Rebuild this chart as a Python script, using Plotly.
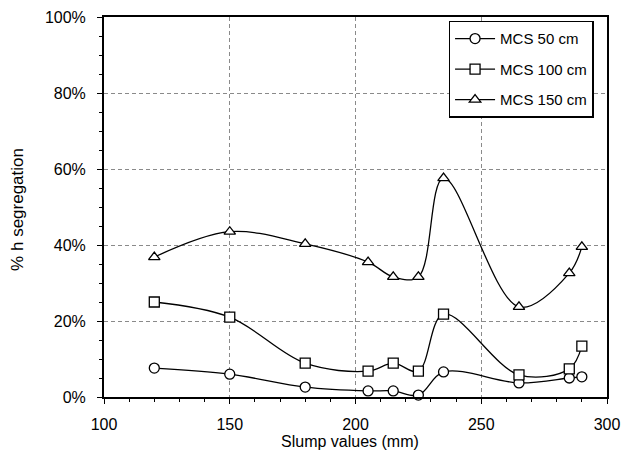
import plotly.graph_objects as go

# Slump values (mm) at which each column height was tested
slump = [120, 150, 180, 205, 215, 225, 235, 265, 285, 290]

# Percentage height segregation for each column height
mcs_50 = [7.6, 6.0, 2.6, 1.6, 1.6, 0.5, 6.6, 3.7, 5.0, 5.3]
mcs_100 = [25.0, 21.0, 8.9, 6.8, 8.9, 6.8, 21.8, 5.8, 7.4, 13.4]
mcs_150 = [36.8, 43.5, 40.3, 35.5, 31.6, 31.6, 57.6, 23.7, 32.6, 39.5]

series = [
    ("MCS 50 cm", mcs_50, "circle"),
    ("MCS 100 cm", mcs_100, "square"),
    ("MCS 150 cm", mcs_150, "triangle-up"),
]

x_title = "Slump values (mm)"
y_title = "% h segregation"

font = "Liberation Sans, Arial, sans-serif"

fig = go.Figure()
for i, (name, vals, sym) in enumerate(series):
    fig.add_trace(go.Scatter(
        x=slump, y=vals, name=name, mode="lines+markers",
        legendgroup=f"g{i}",
        line=dict(color="black", width=1.3, shape="spline", smoothing=1.0),
        marker=dict(symbol=sym, size=10, color="white",
                    line=dict(color="black", width=1.3)),
        cliponaxis=False,
    ))

axis_common = dict(
    showline=True, linecolor="black", linewidth=2, mirror=True,
    showgrid=True, gridcolor="#8a8a8a", griddash="4px,3px", gridwidth=1,
    ticks="outside", ticklen=5, tickcolor="black", tickwidth=1,
    tickfont=dict(family=font, size=16, color="black"),
    zeroline=False, automargin=False,
)

fig.update_xaxes(
    range=[100, 300], dtick=50, tick0=100,
    minor=dict(dtick=10, ticks="outside", ticklen=3, tickcolor="black", showgrid=False),
    ticklabelstandoff=7,
    **axis_common,
)
fig.update_yaxes(
    range=[0, 100], dtick=20, ticksuffix="%",
    minor=dict(dtick=5, ticks="outside", ticklen=3, tickcolor="black", showgrid=False),
    ticklabelstandoff=8,
    **axis_common,
)

# Axis titles placed in paper coordinates below / left of the plot area
fig.add_annotation(
    text=x_title, xref="paper", yref="paper", x=0.49, y=-0.118,
    xanchor="center", yanchor="middle", showarrow=False,
    font=dict(family=font, size=16, color="black"),
)
fig.add_annotation(
    text=y_title, xref="paper", yref="paper", x=-0.171, y=0.495,
    xanchor="center", yanchor="middle", textangle=-90, showarrow=False,
    font=dict(family=font, size=17, color="black"),
)

fig.update_layout(
    width=623, height=450,
    margin=dict(l=104, r=16, t=17, b=53),
    paper_bgcolor="white", plot_bgcolor="white",
    font=dict(family=font, color="black"),
    legend=dict(
        x=0.685, y=0.99, xanchor="left", yanchor="top",
        bgcolor="white", bordercolor="black", borderwidth=1.5,
        font=dict(family=font, size=15, color="black"),
        traceorder="grouped", tracegroupgap=8,
        itemwidth=40,
    ),
)

fig.write_html("out.html")
